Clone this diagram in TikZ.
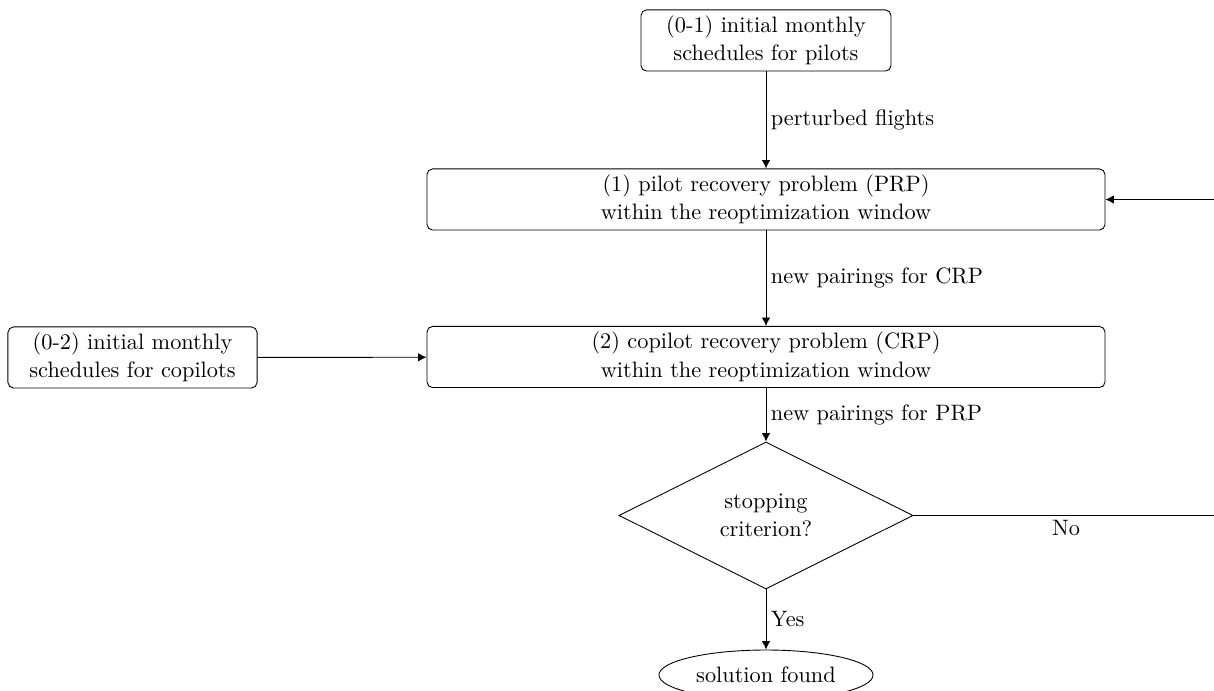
\documentclass[tikz,border=0pt]{standalone}
\usetikzlibrary{shapes.geometric,arrows.meta}
\begin{document}
\begin{tikzpicture}[x=0.4484pt,y=-0.4484pt,
  every node/.style={font=\fontsize{10}{12.8}\selectfont},
  box/.style={draw,rounded corners=2.5pt,align=center,inner sep=0pt,minimum height=27.4pt},
  arr/.style={-{Latex[length=3.8pt,width=3.8pt]}},
  lab/.style={inner sep=2pt}]
\useasboundingbox (0,0) rectangle (1214,691);
\node[box,minimum width=112.1pt] (s1) at (766,40.5) {(0-1) initial monthly\\schedules for pilots};
\node[box,minimum width=304pt] (prp) at (766,199.5) {(1) pilot recovery problem (PRP)\\within the reoptimization window};
\node[box,minimum width=304pt] (crp) at (766,357) {(2) copilot recovery problem (CRP)\\within the reoptimization window};
\node[box,minimum width=111.7pt] (s2) at (132.5,357.5) {(0-2) initial monthly\\schedules for copilots};
\node[draw,diamond,align=center,inner sep=0pt,minimum width=131.8pt,minimum height=65.9pt] (stop) at (766,515.5) {stopping\\criterion?};
\node[draw,ellipse,inner sep=0pt,minimum width=96pt,minimum height=22.4pt] (sol) at (766,675) {solution found};
\coordinate (c1) at (1219,515.5);
\coordinate (c2) at (1219,199.5);
\draw[arr] (s1) -- node[right,lab] {perturbed flights} (prp);
\draw[arr] (prp) -- node[right,lab] {new pairings for CRP} (crp);
\draw[arr] (crp) -- node[right,lab] {new pairings for PRP} (stop);
\draw[arr] (s2) -- (crp);
\draw[arr] (stop) -- node[right,lab] {Yes} (sol);
\draw[arr] (stop.east) -- (c1) -- (c2) -- (prp.east);
\node[lab,below] (no) at (1066,515.5) {No};
\end{tikzpicture}
\end{document}
